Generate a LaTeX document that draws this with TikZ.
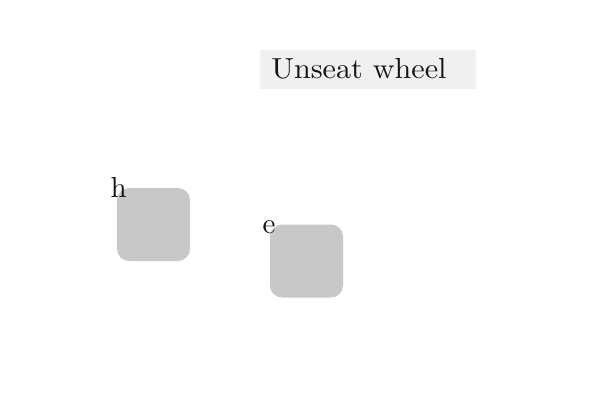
\documentclass[tikz,border=0pt]{standalone}
\usepackage{xcolor}
\definecolor{boxgray}{RGB}{240,240,240}
\definecolor{sqgray}{RGB}{200,200,200}
\definecolor{txt}{RGB}{20,20,20}
\tikzset{
  sqbox/.style={fill=sqgray, draw=none, rounded corners=12pt, minimum width=73pt, minimum height=73pt, inner sep=0pt},
  titlebox/.style={fill=boxgray, draw=none, minimum width=216pt, minimum height=39pt, inner sep=0pt},
  bigtext/.style={text=txt, inner sep=0pt, anchor=base west, font=\fontsize{10}{12}\selectfont, scale=2.9, transform shape},
}
\begin{document}
\begin{tikzpicture}[x=1pt,y=1pt]
\useasboundingbox (0,0) rectangle (600,400);
\node[titlebox] (tb) at (368,330.5) {};
\node[bigtext, xscale=1.04] (tt) at ([xshift=11pt,yshift=-9.2pt]tb.west) {Unseat wheel};
\node[sqbox] (h) at (153.5,175.5) {};
\node[bigtext] (hl) at ([xshift=-6.8pt,yshift=-9.7pt]h.north west) {h};
\node[sqbox] (e) at (306.5,139) {};
\node[bigtext] (el) at ([xshift=-7.8pt,yshift=-9.3pt]e.north west) {e};
\end{tikzpicture}
\end{document}
